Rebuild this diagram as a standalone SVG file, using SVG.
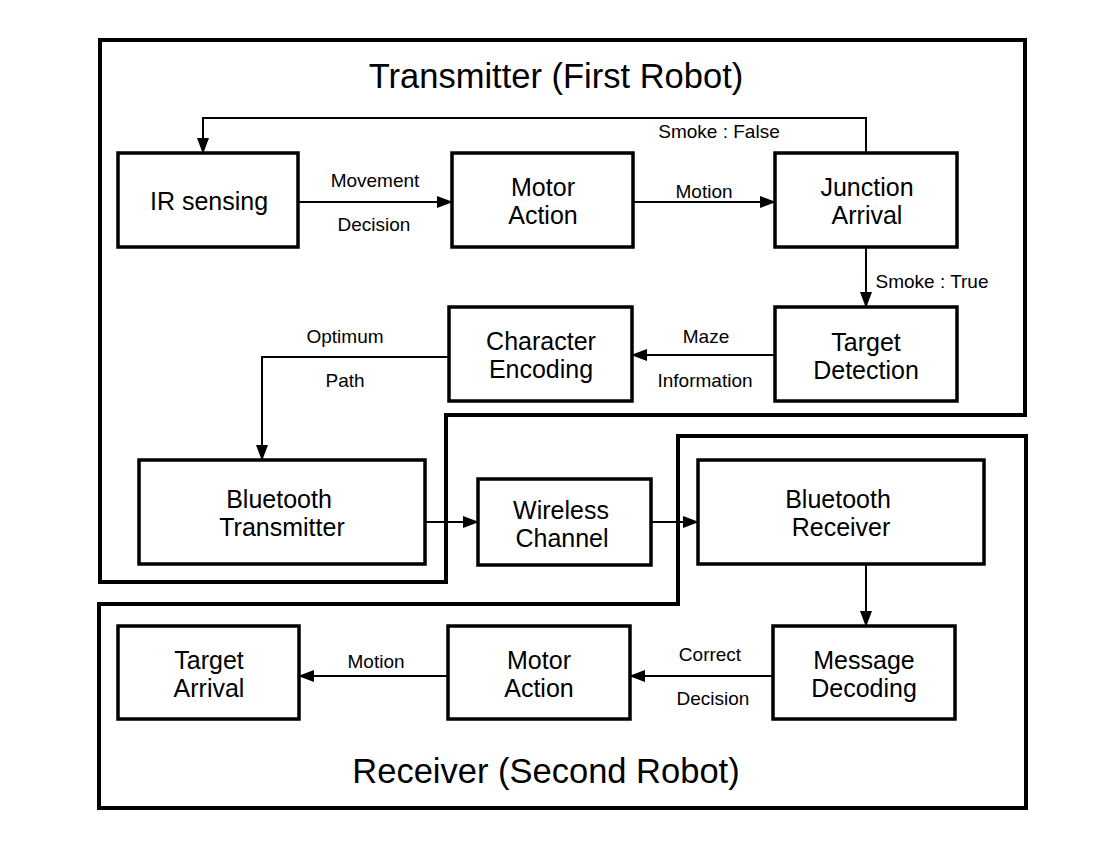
<svg xmlns="http://www.w3.org/2000/svg" width="1100" height="850" viewBox="0 0 1100 850">
  <style>
    .frame { fill: none; stroke: #000; stroke-width: 4; stroke-linejoin: miter; }
    .box { fill: #fff; stroke: #000; stroke-width: 3.5; }
    .wire { fill: none; stroke: #000; stroke-width: 2; }
    .title { font-family: "Liberation Sans", Arial, sans-serif; font-size: 34.5px; text-anchor: middle; fill: #000; }
    .node-text { font-family: "Liberation Sans", Arial, sans-serif; font-size: 25px; text-anchor: middle; fill: #000; }
    .lbl { font-family: "Liberation Sans", Arial, sans-serif; font-size: 19px; text-anchor: middle; fill: #000; }
  </style>
  <defs>
    <marker id="arrow" markerWidth="16" markerHeight="12" refX="15" refY="6" orient="auto" markerUnits="userSpaceOnUse">
      <path d="M0,0 L16,6 L0,12 Z" fill="#000"/>
    </marker>
  </defs>
  <rect width="1100" height="850" fill="#fff"/>

  <!-- Robot boundaries -->
  <g id="transmitter-frame">
    <path class="frame" d="M100,40 H1025 V415 H446 V582 H100 Z"/>
    <text class="title" x="556" y="88">Transmitter (First Robot)</text>
  </g>
  <g id="receiver-frame">
    <path class="frame" d="M678,436 H1026 V808 H99 V604 H678 Z"/>
    <text class="title" x="546" y="783">Receiver (Second Robot)</text>
  </g>

  <!-- Connectors -->
  <g id="connectors">
    <path class="wire" d="M866,153 V118 H203 V153" marker-end="url(#arrow)"/>
    <text class="lbl" x="719" y="138">Smoke : False</text>

    <path class="wire" d="M298,202 H452" marker-end="url(#arrow)"/>
    <text class="lbl" x="375" y="187">Movement</text>
    <text class="lbl" x="374" y="231">Decision</text>

    <path class="wire" d="M633,202 H775" marker-end="url(#arrow)"/>
    <text class="lbl" x="704" y="198">Motion</text>

    <path class="wire" d="M866,247 V307" marker-end="url(#arrow)"/>
    <text class="lbl" x="932" y="288">Smoke : True</text>

    <path class="wire" d="M775,355 H632" marker-end="url(#arrow)"/>
    <text class="lbl" x="706" y="343">Maze</text>
    <text class="lbl" x="705" y="387">Information</text>

    <path class="wire" d="M449,357 H262 V460" marker-end="url(#arrow)"/>
    <text class="lbl" x="345" y="343">Optimum</text>
    <text class="lbl" x="345" y="387">Path</text>

    <path class="wire" d="M425,522 H478" marker-end="url(#arrow)"/>
    <path class="wire" d="M651,522 H698" marker-end="url(#arrow)"/>

    <path class="wire" d="M866,564 V626" marker-end="url(#arrow)"/>

    <path class="wire" d="M773,676 H630" marker-end="url(#arrow)"/>
    <text class="lbl" x="710" y="661">Correct</text>
    <text class="lbl" x="713" y="705">Decision</text>

    <path class="wire" d="M448,676 H299" marker-end="url(#arrow)"/>
    <text class="lbl" x="376" y="668">Motion</text>
  </g>

  <!-- Transmitter nodes -->
  <g id="ir-sensing">
    <rect class="box" x="118" y="153" width="180" height="94"/>
    <text class="node-text" x="209" y="210">IR sensing</text>
  </g>
  <g id="motor-action-tx">
    <rect class="box" x="452" y="153" width="181" height="94"/>
    <text class="node-text" x="543" y="196">Motor</text>
    <text class="node-text" x="543" y="224">Action</text>
  </g>
  <g id="junction-arrival">
    <rect class="box" x="775" y="153" width="182" height="94"/>
    <text class="node-text" x="867" y="196">Junction</text>
    <text class="node-text" x="867" y="224">Arrival</text>
  </g>
  <g id="target-detection">
    <rect class="box" x="775" y="307" width="182" height="94"/>
    <text class="node-text" x="866" y="351">Target</text>
    <text class="node-text" x="866" y="379">Detection</text>
  </g>
  <g id="character-encoding">
    <rect class="box" x="449" y="307" width="183" height="94"/>
    <text class="node-text" x="541" y="350">Character</text>
    <text class="node-text" x="541" y="378">Encoding</text>
  </g>
  <g id="bluetooth-transmitter">
    <rect class="box" x="139" y="460" width="286" height="104"/>
    <text class="node-text" x="279" y="508">Bluetooth</text>
    <text class="node-text" x="282" y="536">Transmitter</text>
  </g>

  <!-- Link -->
  <g id="wireless-channel">
    <rect class="box" x="478" y="479" width="173" height="86"/>
    <text class="node-text" x="561" y="519">Wireless</text>
    <text class="node-text" x="562" y="547">Channel</text>
  </g>

  <!-- Receiver nodes -->
  <g id="bluetooth-receiver">
    <rect class="box" x="698" y="460" width="286" height="104"/>
    <text class="node-text" x="838" y="508">Bluetooth</text>
    <text class="node-text" x="841" y="536">Receiver</text>
  </g>
  <g id="message-decoding">
    <rect class="box" x="773" y="626" width="182" height="93"/>
    <text class="node-text" x="864" y="669">Message</text>
    <text class="node-text" x="864" y="697">Decoding</text>
  </g>
  <g id="motor-action-rx">
    <rect class="box" x="448" y="626" width="182" height="93"/>
    <text class="node-text" x="539" y="669">Motor</text>
    <text class="node-text" x="539" y="697">Action</text>
  </g>
  <g id="target-arrival">
    <rect class="box" x="118" y="626" width="181" height="93"/>
    <text class="node-text" x="209" y="669">Target</text>
    <text class="node-text" x="209" y="697">Arrival</text>
  </g>
</svg>
